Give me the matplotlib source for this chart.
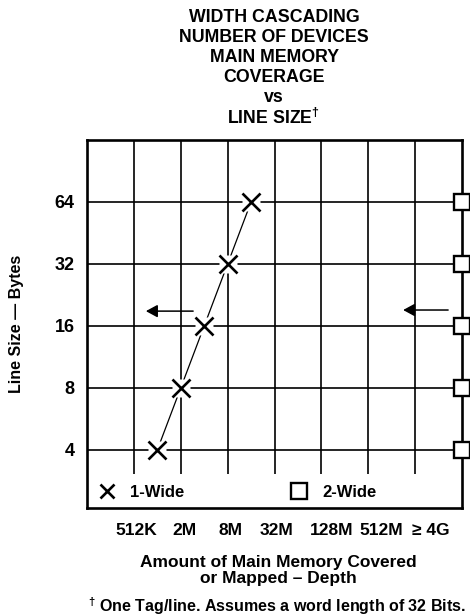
import matplotlib
matplotlib.use("Agg")
import matplotlib.pyplot as plt
import matplotlib.transforms as mtransforms
from matplotlib.lines import Line2D
from matplotlib.ticker import FixedLocator, NullLocator, NullFormatter

plt.rcParams['font.family'] = ['Liberation Sans', 'DejaVu Sans']
plt.rcParams['mathtext.fontset'] = 'custom'
plt.rcParams['mathtext.rm'] = 'Liberation Sans:bold'
plt.rcParams['mathtext.bf'] = 'Liberation Sans:bold'

# Line sizes (bytes) and memory coverage (MB)
line_sizes = [4, 8, 16, 32, 64]
one_wide_mb = [1, 2, 4, 8, 16]
two_wide_mb = [8192, 8192, 8192, 8192, 8192]

x_tick_mb = [0.5, 2, 8, 32, 128, 512, 2048]
x_tick_labels = ['512K', '2M', '8M', '32M', '128M', '512M', '\u2265 4G']
y_tick_labels = ['4', '8', '16', '32', '64']

title_lines = ['WIDTH CASCADING', 'NUMBER OF DEVICES', 'MAIN MEMORY',
               'COVERAGE', 'vs', r'LINE SIZE$^{\dagger}$']

fig = plt.figure(figsize=(4.70, 6.16), dpi=100)
ax = fig.add_axes([87/470, 108/616, 375/470, 368/616])

ax.set_xscale('log', base=2)
ax.set_yscale('log', base=2)
ax.set_xlim(0.125, 8192)
ax.set_ylim(2.09, 128)

# grid: horizontal lines across full width, vertical lines stop above legend
for v in line_sizes:
    ax.axhline(v, color='black', lw=1.2, zorder=1)
for v in x_tick_mb:
    ax.vlines(v, 3.05, 128, color='black', lw=1.2, zorder=1)

for s in ax.spines.values():
    s.set_linewidth(1.9)

# 1-Wide curve
ax.plot(one_wide_mb, line_sizes, color='black', lw=0.9, zorder=2)
ax.plot(one_wide_mb, line_sizes, ls='none', marker='s', ms=13,
        mfc='white', mec='none', zorder=3)
ax.plot(one_wide_mb, line_sizes, ls='none', marker='x', ms=13.5,
        mew=1.9, color='black', zorder=4)

# 2-Wide markers on right edge
ax.plot(two_wide_mb, line_sizes, ls='none', marker='s', ms=11,
        mfc='white', mec='black', mew=1.7, zorder=5, clip_on=False)

# direction arrows
arrow = dict(arrowstyle='-|>,head_length=0.7,head_width=0.38', color='black',
             lw=1.1, shrinkA=0, shrinkB=0)
ax.annotate('', xy=(0.157, 0.535), xytext=(0.283, 0.535),
            xycoords='axes fraction', arrowprops=arrow)
ax.annotate('', xy=(0.843, 0.538), xytext=(0.963, 0.538),
            xycoords='axes fraction', arrowprops=arrow)

ax.xaxis.set_major_locator(FixedLocator(x_tick_mb))
ax.set_xticklabels(x_tick_labels)
ax.xaxis.set_minor_locator(NullLocator())
ax.xaxis.set_minor_formatter(NullFormatter())
ax.yaxis.set_major_locator(FixedLocator(line_sizes))
ax.set_yticklabels(y_tick_labels)
ax.yaxis.set_minor_locator(NullLocator())
ax.yaxis.set_minor_formatter(NullFormatter())
ax.tick_params(length=0, pad=8)
ax.tick_params(axis='x', labelsize=12.5, pad=11)
ax.tick_params(axis='y', labelsize=13, pad=9)
for t in ax.get_xticklabels() + ax.get_yticklabels():
    t.set_fontweight('bold')

# typeset spacing of the depth labels along the bottom row
label_shift_pt = [1.5, 3, 2, 1.5, 7.5, 9.5, 11.5]
for t, dx in zip(ax.get_xticklabels(), label_shift_pt):
    t.set_transform(t.get_transform() +
                    mtransforms.ScaledTranslation(dx / 72, 0, fig.dpi_scale_trans))

ax.set_ylabel('Line Size \u2014 Bytes', fontsize=11.5, fontweight='bold')
ax.yaxis.set_label_coords(-0.168, 0.5)
ax.set_xlabel('Amount of Main Memory Covered\nor Mapped \u2013 Depth',
              fontsize=12.5, fontweight='bold', linespacing=1.1)
ax.xaxis.set_label_coords(0.51, -0.128)

handles = [Line2D([], [], ls='none', marker='x', ms=10.5, mew=1.9, color='black'),
           Line2D([], [], ls='none', marker='s', ms=11, mfc='white',
                  mec='black', mew=1.7)]
leg = ax.legend(handles, ['1-Wide', '2-Wide'], loc='lower left', ncol=2,
                frameon=False, fontsize=12, handlelength=1.0,
                handletextpad=0.9, columnspacing=6.35,
                bbox_to_anchor=(0.0, -0.01), borderaxespad=0.3)
for t in leg.get_texts():
    t.set_fontweight('bold')

# title block
for i, line in enumerate(title_lines):
    fig.text(274/470, 1 - (18 + 20*i)/616, line, ha='center', va='center',
             fontsize=12.8, fontweight='bold')

fig.text(277/470, 1 - 606/616,
         r'$^{\dagger}$ One Tag/line. Assumes a word length of 32 Bits.',
         ha='center', va='center', fontsize=11.5, fontweight='bold')

fig.savefig('out.png', dpi=100)
